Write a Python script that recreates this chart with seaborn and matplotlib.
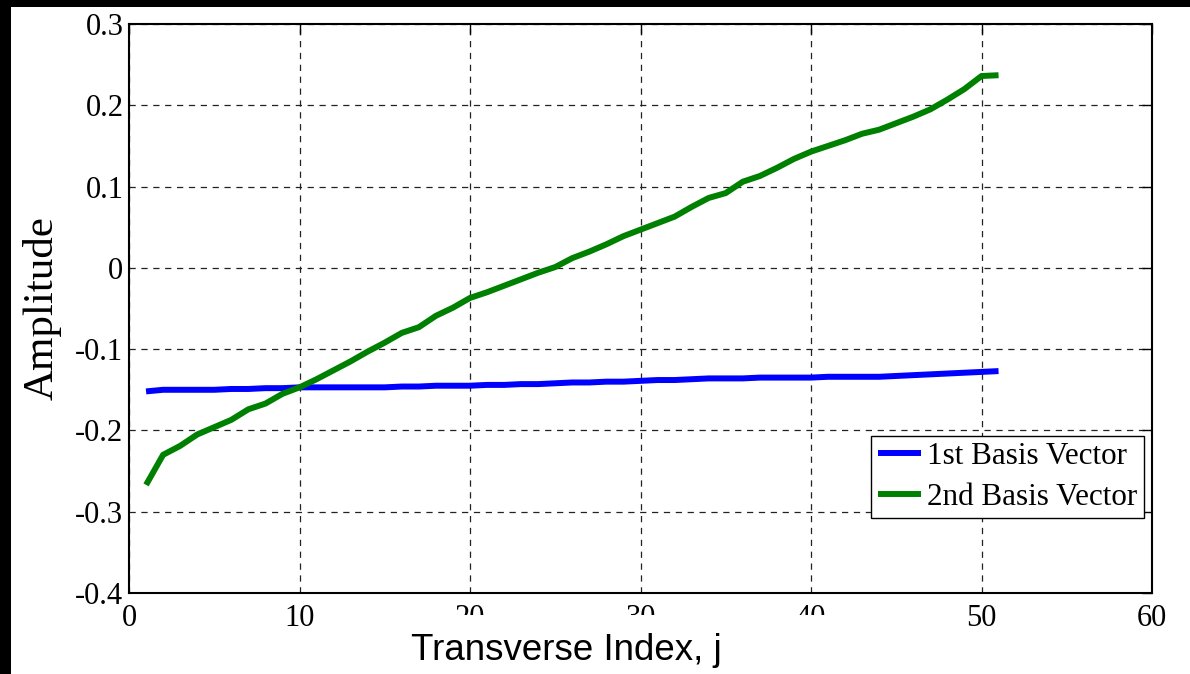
import numpy as np
import pandas as pd
import matplotlib
matplotlib.use("Agg")
import matplotlib.pyplot as plt
from matplotlib.patches import Rectangle
import seaborn as sns

# Transverse index and the two basis-vector amplitudes
index = list(range(1, 52))
basis_1 = [
    -0.152, -0.150, -0.150, -0.150, -0.150, -0.149, -0.149, -0.148, -0.148, -0.147,
    -0.147, -0.147, -0.147, -0.147, -0.147, -0.146, -0.146, -0.145, -0.145, -0.145,
    -0.144, -0.144, -0.143, -0.143, -0.142, -0.141, -0.141, -0.140, -0.140, -0.139,
    -0.138, -0.138, -0.137, -0.136, -0.136, -0.136, -0.135, -0.135, -0.135, -0.135,
    -0.134, -0.134, -0.134, -0.134, -0.133, -0.132, -0.131, -0.130, -0.129, -0.128,
    -0.127,
]
basis_2 = [
    -0.267, -0.230, -0.219, -0.205, -0.196, -0.187, -0.174, -0.167, -0.155, -0.147,
    -0.137, -0.126, -0.115, -0.103, -0.092, -0.080, -0.073, -0.059, -0.049, -0.037,
    -0.030, -0.022, -0.014, -0.006, 0.001, 0.012, 0.020, 0.029, 0.039, 0.047,
    0.055, 0.063, 0.075, 0.086, 0.092, 0.106, 0.113, 0.123, 0.134, 0.143,
    0.150, 0.157, 0.165, 0.170, 0.178, 0.186, 0.195, 0.207, 0.220, 0.236,
    0.237,
]
series_names = ["1st Basis Vector", "2nd Basis Vector"]
series_colors = ["#0000ff", "#008000"]
x_ticks = [0, 10, 20, 30, 40, 50, 60]
y_ticks = [-0.4, -0.3, -0.2, -0.1, 0.0, 0.1, 0.2, 0.3]

sns.set_style("white")
plt.rcParams["font.family"] = ["Liberation Serif", "DejaVu Serif"]
plt.rcParams["axes.unicode_minus"] = False
plt.rcParams["text.color"] = "black"
plt.rcParams["axes.labelcolor"] = "black"
plt.rcParams["xtick.color"] = "black"
plt.rcParams["ytick.color"] = "black"

df = pd.DataFrame({
    "j": index * 2,
    "amp": basis_1 + basis_2,
    "series": [series_names[0]] * len(index) + [series_names[1]] * len(index),
})

W, H = 1190, 674
fig = plt.figure(figsize=(W / 100, H / 100), dpi=100, facecolor="black")
# white page with a thin dark margin on the left and top
fig.add_artist(Rectangle((11 / W, 0), 1, 1 - 7 / H, transform=fig.transFigure,
                         facecolor="white", edgecolor="none", zorder=-1))

ax = fig.add_axes([129 / W, 81 / H, (1152 - 129) / W, (593 - 24) / H])
ax.set_facecolor("white")

for name, col in zip(series_names, series_colors):
    sub = df[df["series"] == name]
    sns.lineplot(data=sub, x="j", y="amp", ax=ax, color=col, linewidth=4.3,
                 label=name, solid_capstyle="butt", solid_joinstyle="round")

ax.set_xlim(0, 60)
ax.set_ylim(-0.4, 0.3)
ax.set_xticks(x_ticks)
ax.set_yticks(y_ticks)
ax.set_xticklabels([str(v) for v in x_ticks])
ax.set_yticklabels(["0" if v == 0 else f"{v:.1f}" for v in y_ticks])
ax.tick_params(direction="in", length=7, width=1, top=True, right=True,
               labelsize=22, colors="black")
ax.tick_params(axis="x", pad=8)
ax.tick_params(axis="y", pad=4)
ax.grid(True, color="#222222", linestyle=(0, (5, 4.5)), linewidth=0.9)
for s in ax.spines.values():
    s.set_color("black")
    s.set_linewidth(1.5)
    s.set_visible(True)

ax.set_xlabel("")
ax.set_ylabel("Amplitude", fontsize=31, family=["Liberation Serif"], color="black")
ax.yaxis.set_label_coords(-0.0655, 0.5)

leg = ax.legend(loc="lower right", bbox_to_anchor=(0.992, 0.132), borderaxespad=0,
                fontsize=22.4, frameon=True, fancybox=False, framealpha=1,
                edgecolor="black", handlelength=1.4, handletextpad=0.2,
                borderpad=0.2, labelspacing=0.38)
leg.get_frame().set_linewidth(1.0)
for t in leg.get_texts():
    t.set_color("black")

# white band under the axis title that trims the middle tick labels
fig.add_artist(Rectangle((318 / W, 0), (845 - 318) / W, (H - 615) / H,
                         transform=fig.transFigure, facecolor="white",
                         edgecolor="none", zorder=2))
fig.text(566 / W, 1 - 651 / H, "Transverse Index, j", ha="center", va="center",
         fontsize=26.5, family=["Liberation Sans"], color="black", zorder=3)

fig.savefig("out.png", dpi=100, facecolor=fig.get_facecolor())
